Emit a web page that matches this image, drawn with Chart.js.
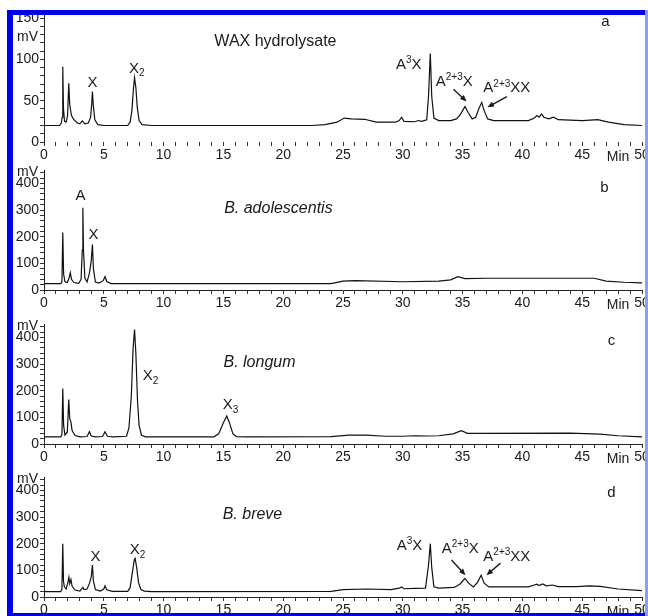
<!DOCTYPE html>
<html>
<head>
<meta charset="utf-8">
<script src="https://cdn.jsdelivr.net/npm/chart.js@4.4.1/dist/chart.umd.min.js"></script>
<style>
    html, body { margin: 0; padding: 0; background: #fff; }
    body { width: 648px; height: 616px; position: relative; overflow: hidden; }
    canvas { position: absolute; left: 0; }
    .frame { position: absolute; background: #0000ee; }
</style>
</head>
<body>
<canvas id="chart_a"></canvas>
<canvas id="chart_b"></canvas>
<canvas id="chart_c"></canvas>
<canvas id="chart_d"></canvas>
<div class="frame" style="left:7px; top:10px; width:641px; height:5px;"></div>
<div class="frame" style="left:7px; top:10px; width:6px; height:606px;"></div>
<div class="frame" style="left:7px; top:613px; width:641px; height:3px;"></div>
<div class="frame" style="left:645px; top:10px; width:3px; height:606px; background:#8c9cff;"></div>
<script>
// retention time (min), signal (mV)
var waxTrace = [[0,20],[1.3,20],[1.45,23],[1.52,30],[1.57,91],[1.63,40],[1.72,25],[1.85,24],[1.97,32],[2.07,71],[2.15,45],[2.3,32],[2.5,27],[2.8,23],[3.0,22],[3.2,25.5],[3.4,22],[3.7,23],[3.9,30],[4.0,48],[4.05,61],[4.12,45],[4.25,27],[4.5,21],[5,20],[7.0,20],[7.2,24],[7.35,38],[7.48,65],[7.57,78],[7.68,66],[7.8,42],[7.95,26],[8.2,21],[9,20],[22.4,20],[23.5,21],[24.5,24],[25.1,29],[25.7,28],[26.8,27.5],[27.8,24],[29.4,24],[29.7,26],[29.9,30],[30.1,25],[31,24.5],[31.3,26],[31.6,25],[32.0,27],[32.15,55],[32.3,107],[32.42,55],[32.6,29],[33,26],[34,26],[34.5,28],[34.8,33],[35.0,38],[35.2,43],[35.45,36],[35.8,28],[36.1,30],[36.35,40],[36.6,48],[36.8,38],[37.1,28],[37.6,26],[40.5,26],[41.0,29],[41.2,32],[41.4,30],[41.6,34],[41.8,30],[42.2,28],[42.6,30],[43,27],[45,26],[46.3,27],[47.2,24],[48.5,21],[50,20]];

var adolescentisTrace = [[0,24],[1.4,24],[1.5,30],[1.57,216],[1.64,60],[1.75,31],[1.95,28],[2.1,45],[2.2,65],[2.3,40],[2.5,28],[2.9,25],[3.1,40],[3.2,150],[3.25,308],[3.3,150],[3.42,45],[3.6,30],[3.8,63],[3.95,110],[4.05,171],[4.13,80],[4.3,30],[4.6,26],[4.95,35],[5.1,50],[5.25,32],[5.6,24],[24,24],[25,33],[26,35],[30,31],[33,33],[34,38],[34.6,50],[35.2,43],[37,44],[46,44],[47,33],[48.5,29],[50,27]];

var longumTrace = [[0,27],[1.4,27],[1.5,35],[1.57,208],[1.64,70],[1.75,34],[1.95,45],[2.07,167],[2.15,95],[2.25,83],[2.35,50],[2.6,32],[3.0,27],[3.6,28],[3.8,46],[3.95,30],[4.3,27],[4.9,28],[5.1,46],[5.3,29],[5.8,27],[6.9,29],[7.1,60],[7.3,180],[7.45,360],[7.57,429],[7.68,340],[7.82,160],[7.95,70],[8.15,33],[8.5,27],[14.2,27],[14.6,38],[15.0,80],[15.28,105],[15.5,80],[15.8,38],[16.1,28],[17,27],[24,28],[25.5,33],[27,33],[28.5,29],[30,29],[31,31],[32,30],[33,31],[34.2,38],[34.9,50],[35.4,40],[36.5,40],[44,41],[46.5,37],[48,31],[50,27]];

var breveTrace = [[0,20],[1.4,20],[1.5,30],[1.57,200],[1.63,60],[1.7,38],[1.85,30],[2.0,55],[2.08,74],[2.15,50],[2.25,66],[2.35,40],[2.6,26],[3.0,22],[3.15,30],[3.25,36],[3.35,28],[3.6,30],[3.8,51],[3.95,75],[4.05,120],[4.13,60],[4.3,28],[4.7,22],[5.0,30],[5.1,42],[5.25,27],[5.7,21],[7.0,21],[7.2,35],[7.4,95],[7.55,140],[7.62,145],[7.75,110],[7.9,55],[8.1,28],[8.4,22],[9,20],[24,21],[25,28],[27,30],[29,28],[29.7,33],[29.9,38],[30.1,31],[31,32],[31.9,33],[32.15,120],[32.3,200],[32.42,110],[32.6,38],[33,33],[34.3,36],[34.8,49],[35.0,60],[35.2,70],[35.5,52],[35.9,38],[36.25,55],[36.55,82],[36.8,52],[37.2,38],[40.5,38],[41.0,45],[41.2,48],[41.4,43],[41.7,49],[42,42],[42.5,45],[43,39],[44.5,39],[45.6,42],[46.5,40],[48,30],[50,24]];

var xLabelStep = 5;          // minutes between labelled x ticks
var smallYLabels = [0, 50, 100, 150];
var bigYLabels = [0, 100, 200, 300, 400];

var FONT = '"Liberation Sans", Arial, Helvetica, sans-serif';

var panels = [
    {
        id: 'chart_a', top: 14, bottom: 142, yMax: 155, yStep: 10, yLabels: smallYLabels,
        xLine: false, mv: 127, trace: waxTrace,
        notes: [
            { t: 46.95, v: 145, parts: [['a']] },
            { t: 19.35, v: 121, parts: [['WAX hydrolysate']], size: 16 },
            { t: 4.06, v: 72, parts: [['X']] },
            { t: 7.75, v: 89, parts: [['X'], ['2', 'sub']] },
            { t: 30.5, v: 94, parts: [['A'], ['3', 'sup'], ['X']] },
            { t: 34.3, v: 73, parts: [['A'], ['2+3', 'sup'], ['X']] },
            { t: 38.7, v: 65, parts: [['A'], ['2+3', 'sup'], ['XX']] }
        ],
        arrows: [[34.24, 64, 35.33, 49], [38.7, 55, 37.08, 42]]
    },
    {
        id: 'chart_b', top: 170, bottom: 290, yMax: 450, yStep: 20, yLabels: bigYLabels,
        xLine: true, mv: null, trace: adolescentisTrace,
        notes: [
            { t: 46.86, v: 382, parts: [['b']] },
            { t: 19.6, v: 304, parts: [['B. adolescentis']], italic: true, size: 16 },
            { t: 3.05, v: 352, parts: [['A']] },
            { t: 4.14, v: 206, parts: [['X']] }
        ],
        arrows: []
    },
    {
        id: 'chart_c', top: 324, bottom: 444, yMax: 450, yStep: 20, yLabels: bigYLabels,
        xLine: true, mv: null, trace: longumTrace,
        notes: [
            { t: 47.45, v: 386, parts: [['c']] },
            { t: 18.02, v: 307, parts: [['B. longum']], italic: true, size: 16 },
            { t: 8.9, v: 255, parts: [['X'], ['2', 'sub']] },
            { t: 15.6, v: 146, parts: [['X'], ['3', 'sub']] }
        ],
        arrows: []
    },
    {
        id: 'chart_d', top: 477, bottom: 597, yMax: 450, yStep: 20, yLabels: bigYLabels,
        xLine: true, mv: null, trace: breveTrace,
        notes: [
            { t: 47.45, v: 390, parts: [['d']] },
            { t: 17.43, v: 311, parts: [['B. breve']], italic: true, size: 16 },
            { t: 4.3, v: 150, parts: [['X']] },
            { t: 7.82, v: 176, parts: [['X'], ['2', 'sub']] },
            { t: 30.56, v: 191, parts: [['A'], ['3', 'sup'], ['X']] },
            { t: 34.8, v: 180, parts: [['A'], ['2+3', 'sup'], ['X']] },
            { t: 38.7, v: 150, parts: [['A'], ['2+3', 'sup'], ['XX']] }
        ],
        arrows: [[34.07, 139, 35.24, 82], [38.17, 127, 37.0, 82]]
    }
];

function drawRich(ctx, parts, cx, cy, size, italic) {
    var fonts = [], widths = [], total = 0;
    parts.forEach(function (p) {
        var small = p[1] === 'sub' || p[1] === 'sup';
        var f = (italic ? 'italic ' : '') + (small ? Math.round(size * 0.68) : size) + 'px ' + FONT;
        ctx.font = f;
        var w = ctx.measureText(p[0]).width;
        fonts.push(f); widths.push(w); total += w;
    });
    var x = cx - total / 2;
    parts.forEach(function (p, i) {
        var dy = 0;
        if (p[1] === 'sub') dy = size * 0.32;
        if (p[1] === 'sup') dy = -size * 0.3;
        ctx.font = fonts[i];
        ctx.fillText(p[0], x, cy + dy);
        x += widths[i];
    });
}

function drawArrow(ctx, x1, y1, x2, y2) {
    var ang = Math.atan2(y2 - y1, x2 - x1), head = 7;
    ctx.beginPath();
    ctx.moveTo(x1, y1);
    ctx.lineTo(x2 - Math.cos(ang) * 4, y2 - Math.sin(ang) * 4);
    ctx.stroke();
    ctx.beginPath();
    ctx.moveTo(x2, y2);
    ctx.lineTo(x2 - head * Math.cos(ang - 0.4), y2 - head * Math.sin(ang - 0.4));
    ctx.lineTo(x2 - head * Math.cos(ang + 0.4), y2 - head * Math.sin(ang + 0.4));
    ctx.closePath();
    ctx.fill();
}

var notesPlugin = {
    id: 'notes',
    afterDraw: function (chart) {
        var p = chart.options.plugins.notes;
        var ctx = chart.ctx, xs = chart.scales.x, ys = chart.scales.y, area = chart.chartArea;
        ctx.save();
        ctx.fillStyle = '#1a1a1a';
        ctx.strokeStyle = '#1a1a1a';
        ctx.lineWidth = 1.4;
        ctx.textBaseline = 'middle';
        ctx.textAlign = 'left';
        p.notes.forEach(function (n) {
            drawRich(ctx, n.parts, xs.getPixelForValue(n.t), ys.getPixelForValue(n.v), n.size || 15, n.italic);
        });
        p.arrows.forEach(function (a) {
            drawArrow(ctx, xs.getPixelForValue(a[0]), ys.getPixelForValue(a[1]),
                xs.getPixelForValue(a[2]), ys.getPixelForValue(a[3]));
        });
        // unit labels
        ctx.font = '14px ' + FONT;
        ctx.textAlign = 'right';
        var mvY = p.mv === null ? area.top + 2 : ys.getPixelForValue(p.mv);
        ctx.fillText('mV', area.left - 6, mvY);
        ctx.textAlign = 'center';
        ctx.fillText('Min', xs.getPixelForValue(48), area.bottom + 15);
        ctx.restore();
    }
};

panels.forEach(function (cfg) {
    var canvas = document.getElementById(cfg.id);
    canvas.width = 660;
    canvas.height = (cfg.bottom - cfg.top) + 40;
    canvas.style.top = (cfg.top - 10) + 'px';

    new Chart(canvas.getContext('2d'), {
        type: 'line',
        data: {
            datasets: [{
                data: cfg.trace.map(function (p) { return { x: p[0], y: p[1] }; }),
                borderColor: '#111',
                borderWidth: 1.2,
                pointRadius: 0,
                tension: 0,
                fill: false
            }]
        },
        options: {
            responsive: false,
            animation: false,
            events: [],
            layout: { padding: { top: 10, left: 0, right: 18, bottom: 0 } },
            plugins: {
                legend: { display: false },
                tooltip: { enabled: false },
                notes: { notes: cfg.notes, arrows: cfg.arrows, mv: cfg.mv }
            },
            scales: {
                x: {
                    type: 'linear',
                    min: 0,
                    max: 50,
                    afterFit: function (s) { s.height = 30; },
                    border: { display: cfg.xLine, color: '#222', width: 1 },
                    grid: { drawOnChartArea: false, tickLength: 4, tickColor: '#333' },
                    ticks: {
                        stepSize: 1,
                        autoSkip: false,
                        maxRotation: 0,
                        padding: 1,
                        color: '#1a1a1a',
                        font: { family: FONT, size: 14 },
                        callback: function (v) { return v % xLabelStep === 0 ? v : ''; }
                    }
                },
                y: {
                    min: 0,
                    max: cfg.yMax,
                    afterFit: function (s) { s.width = 44; },
                    border: { display: true, color: '#222', width: 1 },
                    grid: { drawOnChartArea: false, tickLength: 4, tickColor: '#333' },
                    ticks: {
                        stepSize: cfg.yStep,
                        includeBounds: false,
                        autoSkip: false,
                        padding: 1,
                        color: '#1a1a1a',
                        font: { family: FONT, size: 14 },
                        callback: function (v) { return cfg.yLabels.indexOf(v) >= 0 ? v : ''; }
                    }
                }
            }
        },
        plugins: [notesPlugin]
    });
});
</script>
</body>
</html>
